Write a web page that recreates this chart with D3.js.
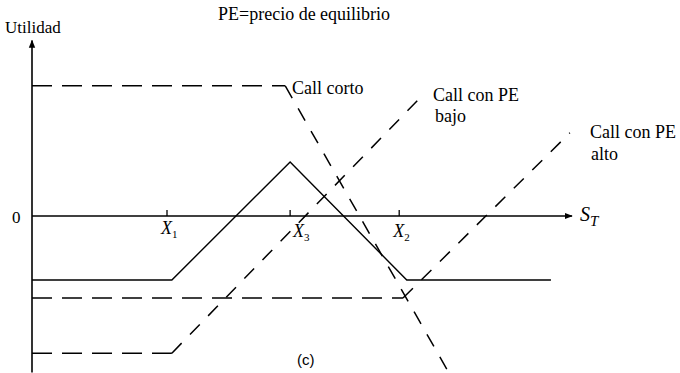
<!DOCTYPE html>
<html>
<head>
<meta charset="utf-8">
<script src="https://cdn.jsdelivr.net/npm/d3@7"></script>
</head>
<body style="margin:0;padding:0;background:#fff">
<div id="chart"></div>
<script>
// strike prices on the S_T axis
const strikes = [
  { key: "X", sub: "1", value: 25 },
  { key: "X", sub: "3", value: 47.8 },
  { key: "X", sub: "2", value: 68 },
];

// payoff profiles (S_T, utilidad)
const spreadPayoff = [[0, -11.85], [25.9, -11.85], [47.8, 10], [69.4, -11.85], [96.1, -11.85]];
const callCorto = [[0, 24.1], [46.9, 24.1], [76.9, -28.5]];
const callPeBajo = [[0, -25.4], [25.9, -25.4], [71.5, 21.5]];
const callPeAlto = [[0, -15.2], [68.7, -15.2], [99.6, 15.4]];

const width = 680;
const height = 373;
const serif = "Liberation Serif";

const x = d3.scaleLinear().domain([0, 100]).range([32, 572]);
const y = d3.scaleLinear().domain([-29, 32.5]).range([372.6, 40.5]);

const svg = d3.select("#chart")
  .append("svg")
  .attr("width", width)
  .attr("height", height)
  .attr("viewBox", [0, 0, width, height])
  .style("display", "block");

svg.append("defs").append("marker")
  .attr("id", "arrow")
  .attr("viewBox", "0 0 10 10")
  .attr("refX", 9)
  .attr("refY", 5)
  .attr("markerWidth", 8)
  .attr("markerHeight", 8)
  .attr("markerUnits", "userSpaceOnUse")
  .attr("orient", "auto")
  .append("path")
  .attr("d", "M0,1L10,5L0,9Z")
  .attr("fill", "#000");

// axes
svg.append("line")
  .attr("x1", x(0)).attr("x2", x(0))
  .attr("y1", y.range()[0]).attr("y2", y.range()[1])
  .attr("stroke", "#000").attr("stroke-width", 1.6)
  .attr("marker-end", "url(#arrow)");

svg.append("line")
  .attr("x1", x(0)).attr("x2", x(100))
  .attr("y1", y(0)).attr("y2", y(0))
  .attr("stroke", "#000").attr("stroke-width", 1.4)
  .attr("marker-end", "url(#arrow)");

// strike ticks
svg.selectAll(".tick-line")
  .data(strikes)
  .join("line")
  .attr("class", "tick-line")
  .attr("x1", (d) => x(d.value)).attr("x2", (d) => x(d.value))
  .attr("y1", y(0)).attr("y2", y(0) - 6)
  .attr("stroke", "#000").attr("stroke-width", 1.3);

const tickLabels = svg.selectAll(".tick-label")
  .data(strikes)
  .join("text")
  .attr("class", "tick-label")
  .attr("font-family", serif)
  .attr("font-size", 18)
  .attr("font-style", "italic")
  .attr("x", (d, i) => x(d.value) + (i === 1 ? 3 : -6))
  .attr("y", (d, i) => y(0) + (i === 0 ? 18 : 21));
tickLabels.append("tspan").text((d) => d.key);
tickLabels.append("tspan")
  .attr("dy", 4)
  .attr("font-size", 11)
  .attr("font-style", "normal")
  .text((d) => d.sub);

const line = d3.line().x((d) => x(d[0])).y((d) => y(d[1]));

svg.append("path")
  .datum(spreadPayoff)
  .attr("d", line)
  .attr("fill", "none")
  .attr("stroke", "#000")
  .attr("stroke-width", 1.4);

// dashed call profiles, one segment at a time (flat parts use longer dashes)
const segments = [callCorto, callPeBajo, callPeAlto].flatMap((s) => d3.pairs(s));
svg.selectAll(".dashed")
  .data(segments)
  .join("path")
  .attr("class", "dashed")
  .attr("d", line)
  .attr("fill", "none")
  .attr("stroke", "#000")
  .attr("stroke-width", 1.5)
  .attr("stroke-dasharray", (d) => (d[0][1] === d[1][1] ? "20,10" : "14,12"));

// texts
const texts = [
  { t: "Utilidad", px: 5, py: 33, s: 17 },
  { t: "PE=precio de equilibrio", px: 218, py: 20, s: 18 },
  { t: "Call corto", px: 292, py: 94, s: 18 },
  { t: "Call con PE", px: 433, py: 101, s: 18 },
  { t: "bajo", px: 435, py: 122, s: 18 },
  { t: "Call con PE", px: 590, py: 138, s: 18 },
  { t: "alto", px: 591, py: 160, s: 18 },
  { t: "0", px: 12, py: 223, s: 17 },
];
svg.selectAll(".note")
  .data(texts)
  .join("text")
  .attr("class", "note")
  .attr("font-family", serif)
  .attr("font-size", (d) => d.s)
  .attr("x", (d) => d.px)
  .attr("y", (d) => d.py)
  .text((d) => d.t);

const st = svg.append("text")
  .attr("font-family", serif)
  .attr("font-style", "italic")
  .attr("font-size", 20)
  .attr("x", 580)
  .attr("y", 221);
st.append("tspan").text("S");
st.append("tspan").attr("dy", 5).attr("font-size", 15).text("T");

svg.append("text")
  .attr("font-family", "Liberation Sans")
  .attr("font-size", 15)
  .attr("x", 297)
  .attr("y", 365)
  .text("(c)");
</script>
</body>
</html>
